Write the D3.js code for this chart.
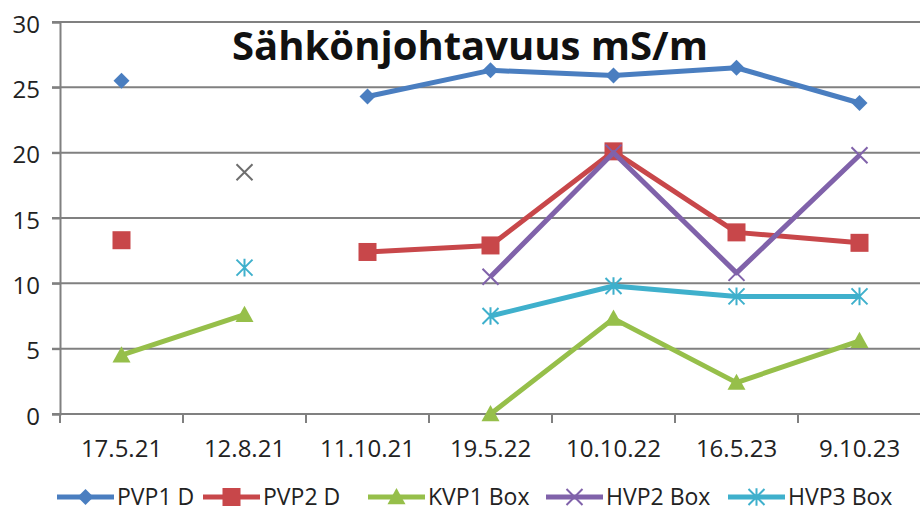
<!DOCTYPE html>
<html>
<head>
<meta charset="utf-8">
<script src="https://cdn.jsdelivr.net/npm/d3@7"></script>
<style>
  body { margin: 0; background: #fff; }
  text { font-family: "Open Sans", sans-serif; fill: #222; }
</style>
</head>
<body>
<svg id="chart" width="920" height="517"></svg>
<script>

// chart data
var dates = [ '17.5.21', '12.8.21', '11.10.21', '19.5.22', '10.10.22', '16.5.23', '9.10.23' ];
var pvp1 = [ 25.5, null, 24.3, 26.3, 25.9, 26.5, 23.8 ];
var pvp2 = [ 13.3, null, 12.4, 12.9, 20.1, 13.9, 13.1 ];
var kvp1 = [ 4.5, 7.6, null, 0, 7.3, 2.4, 5.6 ];
var hvp2 = [ null, null, null, 10.5, 20.0, 10.8, 19.8 ];
var hvp3 = [ null, 11.2, null, 7.5, 9.8, 9.0, 9.0 ];
// lone grey cross at 12.8.21
var extra = [ null, 18.5, null, null, null, null, null ];
var yTicks = [ 0, 5, 10, 15, 20, 25, 30 ];

var series = [
    { name: 'PVP1 D', values: pvp1, color: '#4a7ec0', marker: 'diamond' },
    { name: 'PVP2 D', values: pvp2, color: '#c8474a', marker: 'square' },
    { name: 'KVP1 Box', values: kvp1, color: '#96bf4a', marker: 'triangle' },
    { name: 'HVP2 Box', values: hvp2, color: '#8062aa', marker: 'cross' },
    { name: 'HVP3 Box', values: hvp3, color: '#3fb0cc', marker: 'star' }
];

var svg = d3.select('#chart');

var plotLeft = 60, plotRight = 921, plotTop = 22, plotBottom = 414;

var x = d3.scaleBand()
    .domain( dates )
    .range([ plotLeft, plotRight ]);

var y = d3.scaleLinear()
    .domain([ 0, 30 ])
    .range([ plotBottom, plotTop ]);

// grid
svg.append('g')
    .selectAll('line')
    .data( yTicks )
    .enter().append('line')
    .attr('x1', plotLeft - 8)
    .attr('x2', 920)
    .attr('y1', function ( d ) { return y( d ); })
    .attr('y2', function ( d ) { return y( d ); })
    .attr('stroke', '#808080')
    .attr('stroke-width', 2);

// y axis
var yAxis = svg.append('g')
    .attr('transform', 'translate(' + plotLeft + ',0)')
    .call( d3.axisLeft( y ).tickValues( yTicks ).tickSize( 8 ).tickPadding( 12 ) );

yAxis.select('.domain').attr('stroke', '#808080').attr('stroke-width', 2);
yAxis.selectAll('.tick line').attr('stroke', '#808080').attr('stroke-width', 2);
yAxis.selectAll('text')
    .attr('dy', '0.42em')
    .style('font-family', '"Open Sans", sans-serif')
    .style('font-size', '24px')
    .attr('fill', '#222');

// x axis
var xAxis = svg.append('g')
    .attr('transform', 'translate(0,' + plotBottom + ')')
    .call( d3.axisBottom( x ).tickSize( 0 ).tickPadding( 26 ) );

xAxis.select('.domain').remove();
xAxis.selectAll('text')
    .style('font-family', '"Open Sans", sans-serif')
    .style('font-size', '24px')
    .attr('fill', '#222');

// category boundary ticks
svg.append('g')
    .selectAll('line')
    .data( dates.concat([ null ]) )
    .enter().append('line')
    .attr('x1', function ( d, i ) { return plotLeft + i * x.step(); })
    .attr('x2', function ( d, i ) { return plotLeft + i * x.step(); })
    .attr('y1', plotBottom)
    .attr('y2', plotBottom + 9)
    .attr('stroke', '#808080')
    .attr('stroke-width', 2);

function cx ( i ) { return x( dates[ i ] ) + x.bandwidth() / 2; }

function drawMarker ( g, type, color, s ) {

    if ( type === 'diamond' ) {
        g.append('path')
            .attr('d', 'M0,' + (-s) + 'L' + s + ',0L0,' + s + 'L' + (-s) + ',0Z')
            .attr('fill', color);
    } else if ( type === 'square' ) {
        g.append('rect')
            .attr('x', -s).attr('y', -s)
            .attr('width', 2 * s).attr('height', 2 * s)
            .attr('fill', color);
    } else if ( type === 'triangle' ) {
        g.append('path')
            .attr('d', 'M0,' + (-s) + 'L' + s + ',' + (s * 0.8) + 'L' + (-s) + ',' + (s * 0.8) + 'Z')
            .attr('fill', color);
    } else if ( type === 'cross' ) {
        g.append('path')
            .attr('d', 'M' + (-s) + ',' + (-s) + 'L' + s + ',' + s + 'M' + s + ',' + (-s) + 'L' + (-s) + ',' + s)
            .attr('stroke', color)
            .attr('stroke-width', 2);
    } else if ( type === 'star' ) {
        g.append('path')
            .attr('d', 'M' + (-s) + ',' + (-s) + 'L' + s + ',' + s + 'M' + s + ',' + (-s) + 'L' + (-s) + ',' + s +
                'M0,' + (-s * 1.1) + 'L0,' + (s * 1.1))
            .attr('stroke', color)
            .attr('stroke-width', 2);
    }

}

var sizes = { diamond: 8, square: 9, triangle: 9, cross: 8, star: 8 };

var line = d3.line()
    .defined( function ( d ) { return d !== null; })
    .x( function ( d, i ) { return cx( i ); })
    .y( function ( d ) { return y( d ); });

series.forEach( function ( s ) {

    svg.append('path')
        .datum( s.values )
        .attr('d', line)
        .attr('fill', 'none')
        .attr('stroke', s.color)
        .attr('stroke-width', 5)
        .attr('stroke-linejoin', 'round');

    s.values.forEach( function ( v, i ) {

        if ( v === null ) return;

        var g = svg.append('g')
            .attr('transform', 'translate(' + cx( i ) + ',' + y( v ) + ')');

        drawMarker( g, s.marker, s.color, sizes[ s.marker ] );

    });

});

extra.forEach( function ( v, i ) {

    if ( v === null ) return;

    var g = svg.append('g')
        .attr('transform', 'translate(' + cx( i ) + ',' + y( v ) + ')');

    drawMarker( g, 'cross', '#6e6e6e', 8 );

});

// title
svg.append('text')
    .attr('x', 470)
    .attr('y', 60)
    .attr('text-anchor', 'middle')
    .style('font-size', '40px')
    .style('font-weight', 'bold')
    .style('fill', '#111')
    .text('Sähkönjohtavuus mS/m');

// legend
var legendX = [ 57, 203, 368, 546, 728 ];

series.forEach( function ( s, i ) {

    var g = svg.append('g')
        .attr('transform', 'translate(' + legendX[ i ] + ',497)');

    g.append('line')
        .attr('x1', 0).attr('x2', 57)
        .attr('y1', 0).attr('y2', 0)
        .attr('stroke', s.color)
        .attr('stroke-width', 5);

    var m = g.append('g').attr('transform', 'translate(28.5,0)');
    drawMarker( m, s.marker, s.color, sizes[ s.marker ] );

    g.append('text')
        .attr('x', 60)
        .attr('y', 0)
        .attr('dy', '0.35em')
        .style('font-size', '23px')
        .text( s.name );

});

</script>
</body>
</html>
